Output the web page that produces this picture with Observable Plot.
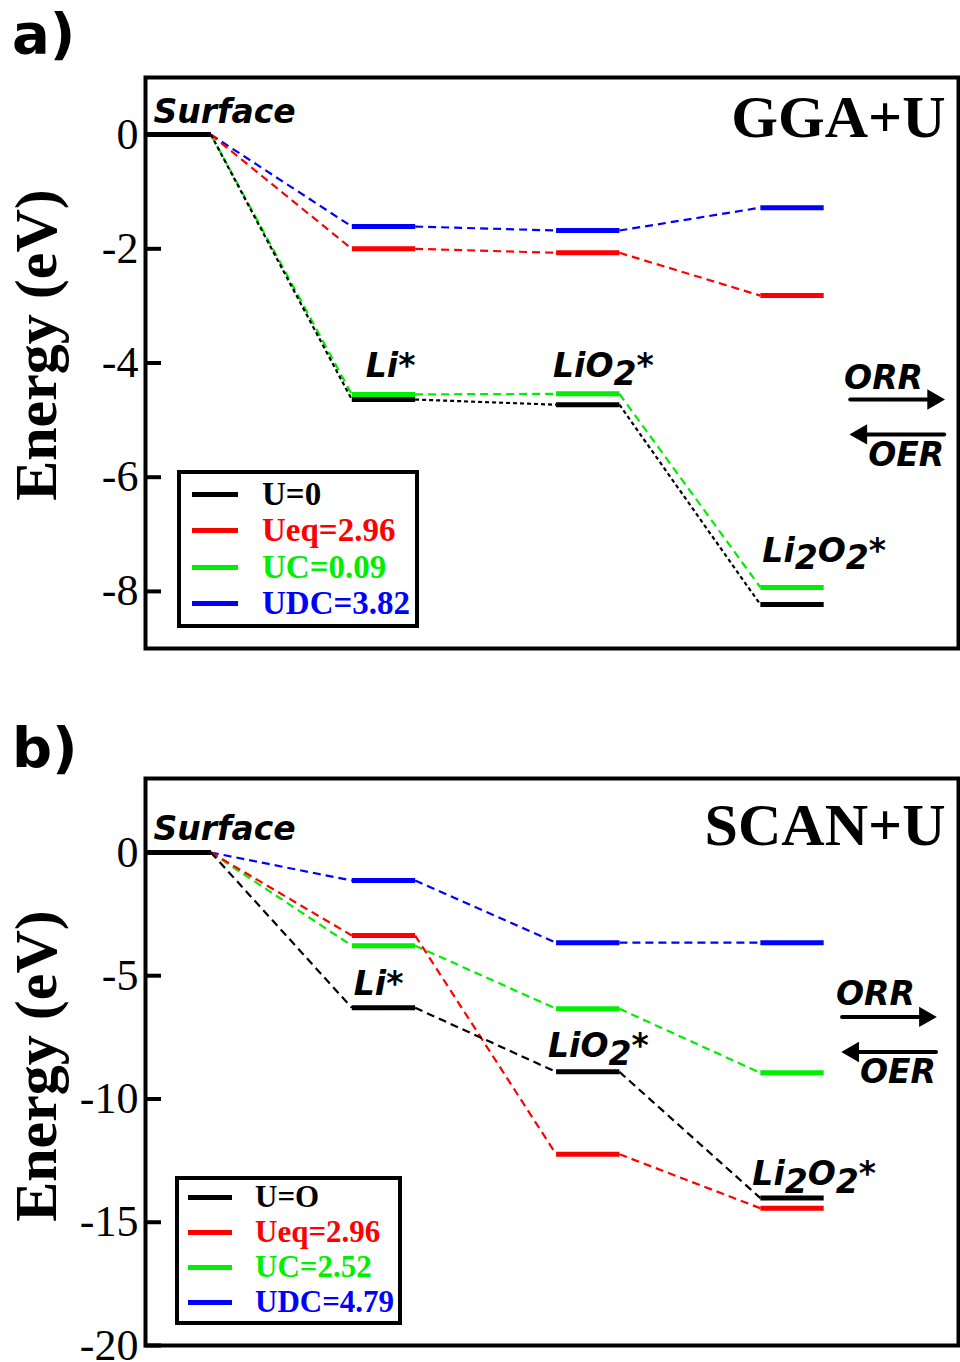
<!DOCTYPE html>
<html>
<head>
<meta charset="utf-8">
<script src="https://cdn.jsdelivr.net/npm/d3@7"></script>
<script src="https://cdn.jsdelivr.net/npm/@observablehq/plot@0.6"></script>
<style>
  body { margin: 0; background: #fff; }
  #page { position: relative; width: 960px; height: 1362px; overflow: hidden; background: #fff; }
  .panel { position: absolute; left: 0; width: 960px; }
  .tag { position: absolute; font-family: "DejaVu Sans", sans-serif; font-weight: bold; font-size: 56px; line-height: 1; z-index: 3; }
  .legend { position: absolute; box-sizing: border-box; background: #fff; border: 4px solid #000;
            font-family: "Liberation Serif", serif; font-weight: bold; z-index: 2; }
  .legend .row { position: absolute; left: 0; display: flex; align-items: center; white-space: nowrap; }
  .legend .swatch { display: inline-block; height: 5px; }
</style>
</head>
<body>
<div id="page"></div>
<script>
// Reaction steps along the discharge (ORR) path
const steps = ["Surface", "Li*", "LiO2*", "Li2O2*"];

// Series names for each panel and their colours (black, red, green, blue)
const seriesA = ["U=0", "Ueq=2.96", "UC=0.09", "UDC=3.82"];
const seriesB = ["U=O", "Ueq=2.96", "UC=2.52", "UDC=4.79"];
const colors = ["#000000", "#ff0000", "#00ee00", "#0000ff"];

// GGA+U free energies (eV) at each step
const ggaU0 = [0, -4.64, -4.73, -8.23];
const ggaUeq = [0, -2.00, -2.07, -2.82];
const ggaUC = [0, -4.55, -4.54, -7.93];
const ggaUDC = [0, -1.61, -1.68, -1.28];

// SCAN+U free energies (eV) at each step
const scanU0 = [0, -6.30, -8.90, -14.02];
const scanUeq = [0, -3.37, -12.24, -14.43];
const scanUC = [0, -3.78, -6.34, -8.94];
const scanUDC = [0, -1.14, -3.66, -3.66];

// y-axis tick values
const yTicksA = [0, -2, -4, -6, -8];
const yTicksB = [0, -5, -10, -15, -20];

const LEVEL = 0.31;            // width of an energy level, in step units
const xDomain = [-0.01, 3.97];
const SVGNS = "http://www.w3.org/2000/svg";
const labelFont = {fontFamily: "DejaVu Sans", fontWeight: "bold", fontStyle: "italic", fontSize: 33, fill: "#000"};

// Turn the digits of a formula such as Li2O2* into lowered tspans
function subscriptFormulas(svg) {
  svg.querySelectorAll("text").forEach(t => {
    const s = t.textContent;
    if (!/^Li/.test(s) || !/\d/.test(s)) return;
    t.textContent = "";
    let shifted = false;
    for (const part of s.match(/\d+|\D+/g)) {
      const ts = document.createElementNS(SVGNS, "tspan");
      ts.textContent = part;
      const isDigit = /\d/.test(part);
      if (isDigit && !shifted) { ts.setAttribute("dy", "0.24em"); shifted = true; }
      else if (!isDigit && shifted) { ts.setAttribute("dy", "-0.24em"); shifted = false; }
      t.appendChild(ts);
    }
  });
}

// A thick horizontal arrow with a filled triangular head
function bigArrow(xFrom, xTo, y) {
  const dir = xTo > xFrom ? 1 : -1;
  return [
    Plot.arrow([0], {x1: xFrom, x2: xTo, y1: y, y2: y, stroke: "#000", strokeWidth: 4,
      headLength: 0, insetEnd: 10}),
    Plot.dot([0], {x: xTo, y: y, symbol: "triangle", rotate: 90 * dir, r: 7.6,
      fill: "#000", stroke: null, dx: -11 * dir})
  ];
}

function energyPanel(cfg) {
  const {values, yDomain, yTicks, title, blackDash, labelDx, labelDy, ann} = cfg;
  const order = [3, 2, 1, 0]; // blue, red, green, black on top
  const marks = [];

  // dashed connectors between consecutive levels
  for (const s of order) {
    const v = values[s];
    const segs = v.slice(0, -1).map((e, i) => ({x1: i + LEVEL, x2: i + 1, y1: e, y2: v[i + 1]}));
    marks.push(Plot.link(segs, {
      x1: "x1", x2: "x2", y1: "y1", y2: "y2",
      stroke: colors[s], strokeWidth: 2.2,
      strokeDasharray: s === 0 ? blackDash : "8,5"
    }));
  }
  // solid energy levels
  for (const s of order) {
    marks.push(Plot.link(values[s], {
      x1: (d, i) => i, x2: (d, i) => i + LEVEL, y1: d => d, y2: d => d,
      stroke: colors[s], strokeWidth: 5
    }));
  }
  // step labels, placed above the U=0 level
  steps.forEach((name, i) => {
    marks.push(Plot.text([name], {
      x: i, y: values[0][i], dx: labelDx[i], dy: labelDy[i],
      textAnchor: "start", lineAnchor: "bottom", ...labelFont
    }));
  });

  // ORR / OER direction arrows
  marks.push(
    Plot.text(["ORR"], {x: ann.orrX, y: ann.orrY, textAnchor: "start", lineAnchor: "bottom", ...labelFont}),
    ...bigArrow(ann.x1, ann.x2, ann.orrArrow),
    ...bigArrow(ann.x2, ann.x1, ann.oerArrow),
    Plot.text(["OER"], {x: ann.x2, y: ann.oerY, textAnchor: "end", lineAnchor: "bottom", ...labelFont})
  );

  // method title
  marks.push(Plot.text([title], {
    frameAnchor: "top-right", textAnchor: "end", lineAnchor: "top", dx: -13, dy: cfg.titleDy,
    fontFamily: "Liberation Serif", fontWeight: "bold", fontSize: 60, fill: "#000"
  }));

  // y axis: inward ticks, serif labels, rotated title
  marks.push(
    Plot.axisY({ticks: yTicks, tickSize: -16, strokeWidth: 4, tickFormat: () => "", label: null}),
    Plot.axisY({ticks: yTicks, tickSize: 0, tickPadding: 7, tickFormat: d => String(d), label: null,
      fontSize: 44, fontFamily: "Liberation Serif", fill: "#000"}),
    Plot.text(["Energy (eV)"], {
      frameAnchor: "left", textAnchor: "middle", rotate: -90, dx: -90, dy: cfg.ylabelDy, lineAnchor: "bottom",
      fontFamily: "Liberation Serif", fontWeight: "bold", fontSize: 60, fill: "#000"
    }),
    Plot.frame({stroke: "#000", strokeWidth: 4})
  );

  const svg = Plot.plot({
    width: 960,
    height: cfg.height,
    marginLeft: 145,
    marginRight: 2,
    marginTop: cfg.marginTop,
    marginBottom: cfg.marginBottom,
    x: {domain: xDomain, axis: null},
    y: {domain: yDomain, axis: null},
    style: {background: "transparent", overflow: "visible"},
    marks
  });
  subscriptFormulas(svg);
  return svg;
}

function legendBox(names, cfg) {
  const box = document.createElement("div");
  box.className = "legend";
  Object.assign(box.style, {
    left: cfg.left + "px", top: cfg.top + "px",
    width: cfg.width + "px", height: cfg.height + "px", fontSize: cfg.fontSize + "px"
  });
  names.forEach((name, i) => {
    const row = document.createElement("div");
    row.className = "row";
    row.style.top = (cfg.first + i * cfg.step - cfg.step / 2 - 4) + "px";
    row.style.height = cfg.step + "px";
    const sw = document.createElement("span");
    sw.className = "swatch";
    Object.assign(sw.style, {width: cfg.lineW + "px", marginLeft: cfg.lineX + "px", background: colors[i]});
    const tx = document.createElement("span");
    tx.textContent = name;
    Object.assign(tx.style, {marginLeft: cfg.textGap + "px", color: colors[i]});
    row.append(sw, tx);
    box.appendChild(row);
  });
  return box;
}

const page = document.getElementById("page");

function addPanel(top, svg, tag, tagTop, legend) {
  const div = document.createElement("div");
  div.className = "panel";
  div.style.top = top + "px";
  div.appendChild(svg);
  page.appendChild(div);
  const t = document.createElement("div");
  t.className = "tag";
  t.textContent = tag;
  t.style.left = "12px";
  t.style.top = tagTop + "px";
  page.appendChild(t);
  page.appendChild(legend);
}

const svgA = energyPanel({
  values: [ggaU0, ggaUeq, ggaUC, ggaUDC],
  yDomain: [-9, 1], yTicks: yTicksA, title: "GGA+U",
  blackDash: "4,3",
  labelDx: [6, 14, -3, 2], labelDy: [-12, -23, -28, -43],
  ann: {orrX: 3.41, orrY: -4.45, x1: 3.44, x2: 3.90, orrArrow: -4.64, oerArrow: -5.25, oerY: -5.81},
  titleDy: 17, ylabelDy: -18,
  height: 680, marginTop: 77, marginBottom: 32
});
addPanel(0, svgA, "a)", 6, legendBox(seriesA, {
  left: 177, top: 470, width: 242, height: 158, fontSize: 33,
  first: 24, step: 36.5, lineX: 11, lineW: 46, textGap: 24
}));

const svgB = energyPanel({
  values: [scanU0, scanUeq, scanUC, scanUDC],
  yDomain: [-20, 3], yTicks: yTicksB, title: "SCAN+U",
  blackDash: "8,5",
  labelDx: [6, 2, -8, -8], labelDy: [-12, -13, -15, -13],
  ann: {orrX: 3.37, orrY: -6.18, x1: 3.40, x2: 3.86, orrArrow: -6.67, oerArrow: -8.09, oerY: -9.35},
  titleDy: 24, ylabelDy: 4,
  height: 682, marginTop: 98, marginBottom: 17
});
addPanel(680, svgB, "b)", 720, legendBox(seriesB, {
  left: 175, top: 1176, width: 227, height: 149, fontSize: 31,
  first: 21, step: 35, lineX: 9, lineW: 44, textGap: 23
}));
</script>
</body>
</html>
